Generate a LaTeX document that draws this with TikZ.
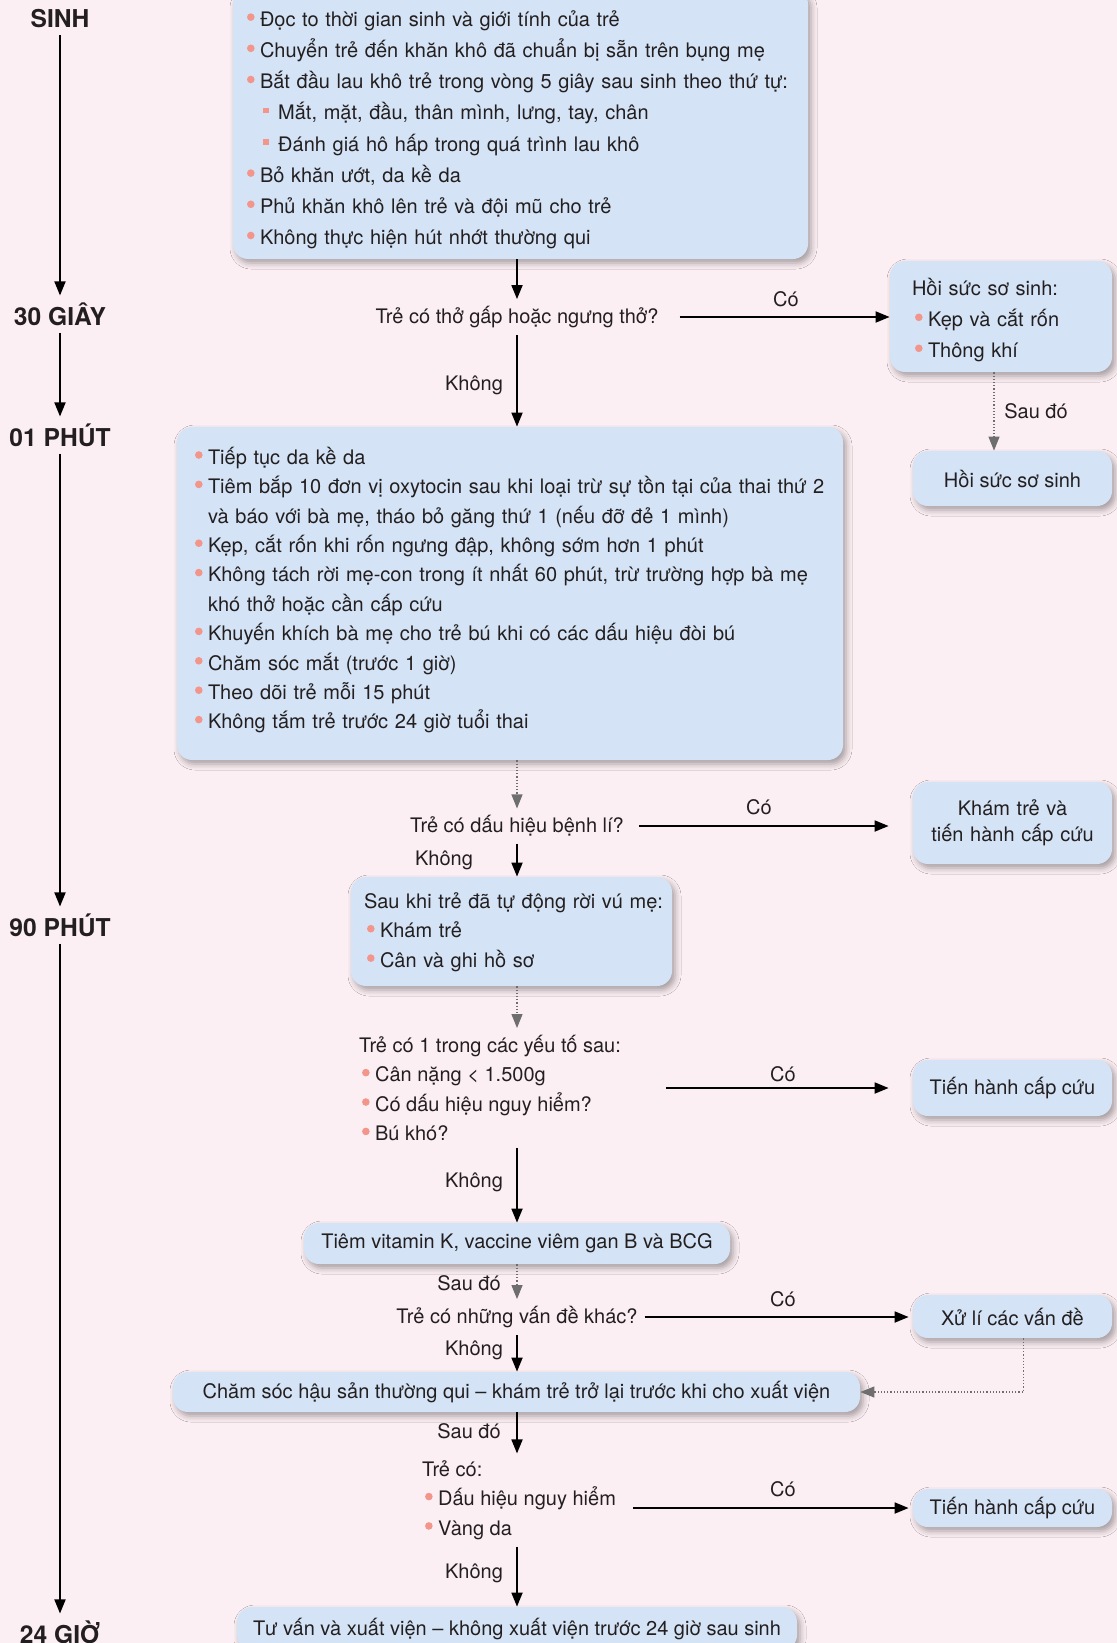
\documentclass[tikz,border=0pt]{standalone}
\usepackage{fontspec}
\setmainfont{TeX Gyre Heros}
\usetikzlibrary{arrows.meta,shadows.blur}

\definecolor{bgpink}{HTML}{FCEFF3}
\definecolor{boxblue}{HTML}{D4E3F5}
\definecolor{bulred}{HTML}{F2958A}
\definecolor{tipgray}{HTML}{6E6E6E}
\definecolor{txt}{HTML}{231F20}

\newcommand{\bul}{\makebox[6.5pt][l]{\tikz[baseline=0pt]\fill[bulred] (2pt,4.6pt) circle (1.9pt);}}
\newcommand{\sqbul}{\hspace*{8.1pt}\makebox[7.5pt][l]{\color{bulred}\rule[3.2pt]{2.8pt}{2.8pt}}}
\newcommand{\ind}{\hspace*{6.5pt}}

\begin{document}
\begin{tikzpicture}[x=0.5pt,y=-0.5pt,
  every node/.style={font=\fontsize{10}{14.7}\selectfont, text=txt},
  box/.style={fill=boxblue, rounded corners=7.5pt,
    blur shadow={shadow xshift=1.5pt, shadow yshift=-2pt, shadow blur radius=3pt, shadow opacity=35}},
  lst/.style={box, align=left, text height=10pt},
  side/.style={box, minimum width=99.5pt, align=center},
  time/.style={font=\fontsize{12.3}{14}\selectfont\bfseries},
  arr/.style={line width=0.9pt, -{Triangle[length=7pt,width=5.5pt]}},
  dot/.style={line width=0.6pt, densely dotted, draw=tipgray, -{Triangle[length=7pt,width=5.5pt,fill=tipgray]}}
]
\useasboundingbox (0,0) rectangle (1117,1643);
\fill[bgpink] (0,0) rectangle (1117,1643);

\node[time] (t0) at (60,19) {SINH};
\node[time] (t1) at (60,314) {30 GIÂY};
\node[time] (t2) at (60,435) {01 PHÚT};
\node[time] (t3) at (60,925) {90 PHÚT};
\node[time] (t4) at (60,1632) {24 GIỜ};
\foreach \a/\b in {t0/t1,t1/t2,t2/t3,t3/t4}
  \draw[arr] (\a) -- (\b);

\coordinate (col) at (517,0);

\node[lst, text width=273.5pt, inner xsep=7pt, minimum height=135pt, text depth=107.7pt, font=\fontsize{10}{15.6}\selectfont] (birth) at (520.5,124) {%
\bul Đọc to thời gian sinh và giới tính của trẻ\\
\bul Chuyển trẻ đến khăn khô đã chuẩn bị sẵn trên bụng mẹ\\
\bul Bắt đầu lau khô trẻ trong vòng 5 giây sau sinh theo thứ tự:\\
\sqbul Mắt, mặt, đầu, thân mình, lưng, tay, chân\\
\sqbul Đánh giá hô hấp trong quá trình lau khô\\
\bul Bỏ khăn ướt, da kề da\\
\bul Phủ khăn khô lên trẻ và đội mũ cho trẻ\\
\bul Không thực hiện hút nhớt thường qui};

\node (q1) at (517,317) {Trẻ có thở gấp hoặc ngưng thở?};
\node[lst, text width=89pt, inner xsep=11pt, minimum height=55.5pt, text depth=31pt, font=\fontsize{10}{15.5}\selectfont] (hoi1) at (1001,316.5) {%
Hồi sức sơ sinh:\\
\hspace*{1.5pt}\bul Kẹp và cắt rốn\\
\hspace*{1.5pt}\bul Thông khí};
\node[side, minimum height=27.5pt] (hoi2) at (1012.5,478.5) {Hồi sức sơ sinh};

\node[lst, text width=315pt, inner xsep=9pt, minimum height=166.5pt, text depth=139.3pt] (care) at (510,593.5) {%
\bul Tiếp tục da kề da\\
\mbox{\bul Tiêm bắp 10 đơn vị oxytocin sau khi loại trừ sự tồn tại của thai thứ 2}\\
\ind và báo với bà mẹ, tháo bỏ găng thứ 1 (nếu đỡ đẻ 1 mình)\\
\bul Kẹp, cắt rốn khi rốn ngưng đập, không sớm hơn 1 phút\\
\mbox{\bul Không tách rời mẹ-con trong ít nhất 60 phút, trừ trường hợp bà mẹ}\\
\ind khó thở hoặc cần cấp cứu\\
\bul Khuyến khích bà mẹ cho trẻ bú khi có các dấu hiệu đòi bú\\
\bul Chăm sóc mắt (trước 1 giờ)\\
\bul Theo dõi trẻ mỗi 15 phút\\
\bul Không tắm trẻ trước 24 giờ tuổi thai};

\node (q2) at (517,826) {Trẻ có dấu hiệu bệnh lí?};
\node[side, text width=85pt, inner xsep=7.25pt, minimum height=41pt, font=\fontsize{10}{13}\selectfont] (kham) at (1012.5,823) {Khám trẻ và\\ tiến hành cấp cứu};

\node[lst, text width=147.5pt, inner xsep=6.5pt, minimum height=54.5pt, text depth=33pt] (exam) at (511.5,931.5) {%
\mbox{Sau khi trẻ đã tự động rời vú mẹ:}\\
\hspace*{1.5pt}\bul Khám trẻ\\
\hspace*{1.5pt}\bul Cân và ghi hồ sơ};

\node[align=left, anchor=west] (risk) at (352,1088) {%
Trẻ có 1 trong các yếu tố sau:\\
\hspace*{1.5pt}\bul Cân nặng < 1.500g\\
\hspace*{1.5pt}\bul Có dấu hiệu nguy hiểm?\\
\hspace*{1.5pt}\bul Bú khó?};
\node[side, minimum height=28pt] (cc1) at (1012.5,1088) {Tiến hành cấp cứu};

\node[box, minimum width=213pt, minimum height=20.5pt] (vitk) at (517,1243.5) {Tiêm vitamin K, vaccine viêm gan B và BCG};
\node (q4) at (517,1317) {Trẻ có những vấn đề khác?};
\node[side, minimum height=21.5pt] (xuli) at (1012.5,1316.5) {Xử lí các vấn đề};
\node[box, minimum width=343.5pt, minimum height=20pt] (postc) at (516.5,1392) {Chăm sóc hậu sản thường qui – khám trẻ trở lại trước khi cho xuất viện};

\node[align=left, anchor=west] (late) at (415,1500) {%
Trẻ có:\\
\hspace*{1.5pt}\bul Dấu hiệu nguy hiểm\\
\hspace*{1.5pt}\bul Vàng da};
\node[side, minimum height=19pt] (cc2) at (1012.5,1508) {Tiến hành cấp cứu};
\node[box, minimum width=280pt, minimum height=21.5pt] (home) at (517,1628.5) {Tư vấn và xuất viện – không xuất viện trước 24 giờ sau sinh};

\node (co1) at (786,299) {Có};
\node (co2) at (759,807) {Có};
\node (co3) at (783,1074) {Có};
\node (co4) at (783,1299) {Có};
\node (co5) at (783,1489) {Có};
\node (ko1) at (474,385) {Không};
\node (ko2) at (444,860) {Không};
\node (ko3) at (474,1182) {Không};
\node (ko4) at (474,1350) {Không};
\node (ko5) at (474,1573) {Không};
\node (sd1) at (1036,411) {Sau đó};
\node (sd2) at (469,1283) {Sau đó};
\node (sd3) at (469,1431) {Sau đó};

\draw[arr] (col |- birth.south) -- (q1);
\draw[arr, shorten <=7pt] (q1) -- (q1 -| hoi1.west);
\draw[dot] ([xshift=-3.5pt]hoi1.south) -- ([xshift=-3.5pt]hoi1.south |- hoi2.north);
\draw[arr] (q1) -- (col |- care.north);
\draw[dot] (col |- care.south) -- (q2);
\draw[arr, shorten <=4pt, shorten >=12pt] (q2) -- (q2 -| kham.west);
\draw[arr] (q2) -- (col |- exam.north);
\draw[dot] (col |- exam.south) -- (col |- risk.north);
\draw[arr, shorten <=19pt, shorten >=12pt] (risk.east) -- (risk.east -| cc1.west);
\draw[arr] (col |- risk.south) -- (col |- vitk.north);
\draw[dot] (col |- vitk.south) -- (q4);
\draw[arr, shorten >=2pt] (q4) -- (q4 -| xuli.west);
\draw[dot] ([xshift=5.5pt]xuli.south) |- (postc.east);
\draw[arr] (q4) -- (col |- postc.north);
\draw[arr] (col |- postc.south) -- (col |- late.north);
\draw[arr, shorten <=5pt, shorten >=2pt] (late.east |- cc2) -- (cc2);
\draw[arr] (col |- late.south) -- (home);
\end{tikzpicture}
\end{document}
